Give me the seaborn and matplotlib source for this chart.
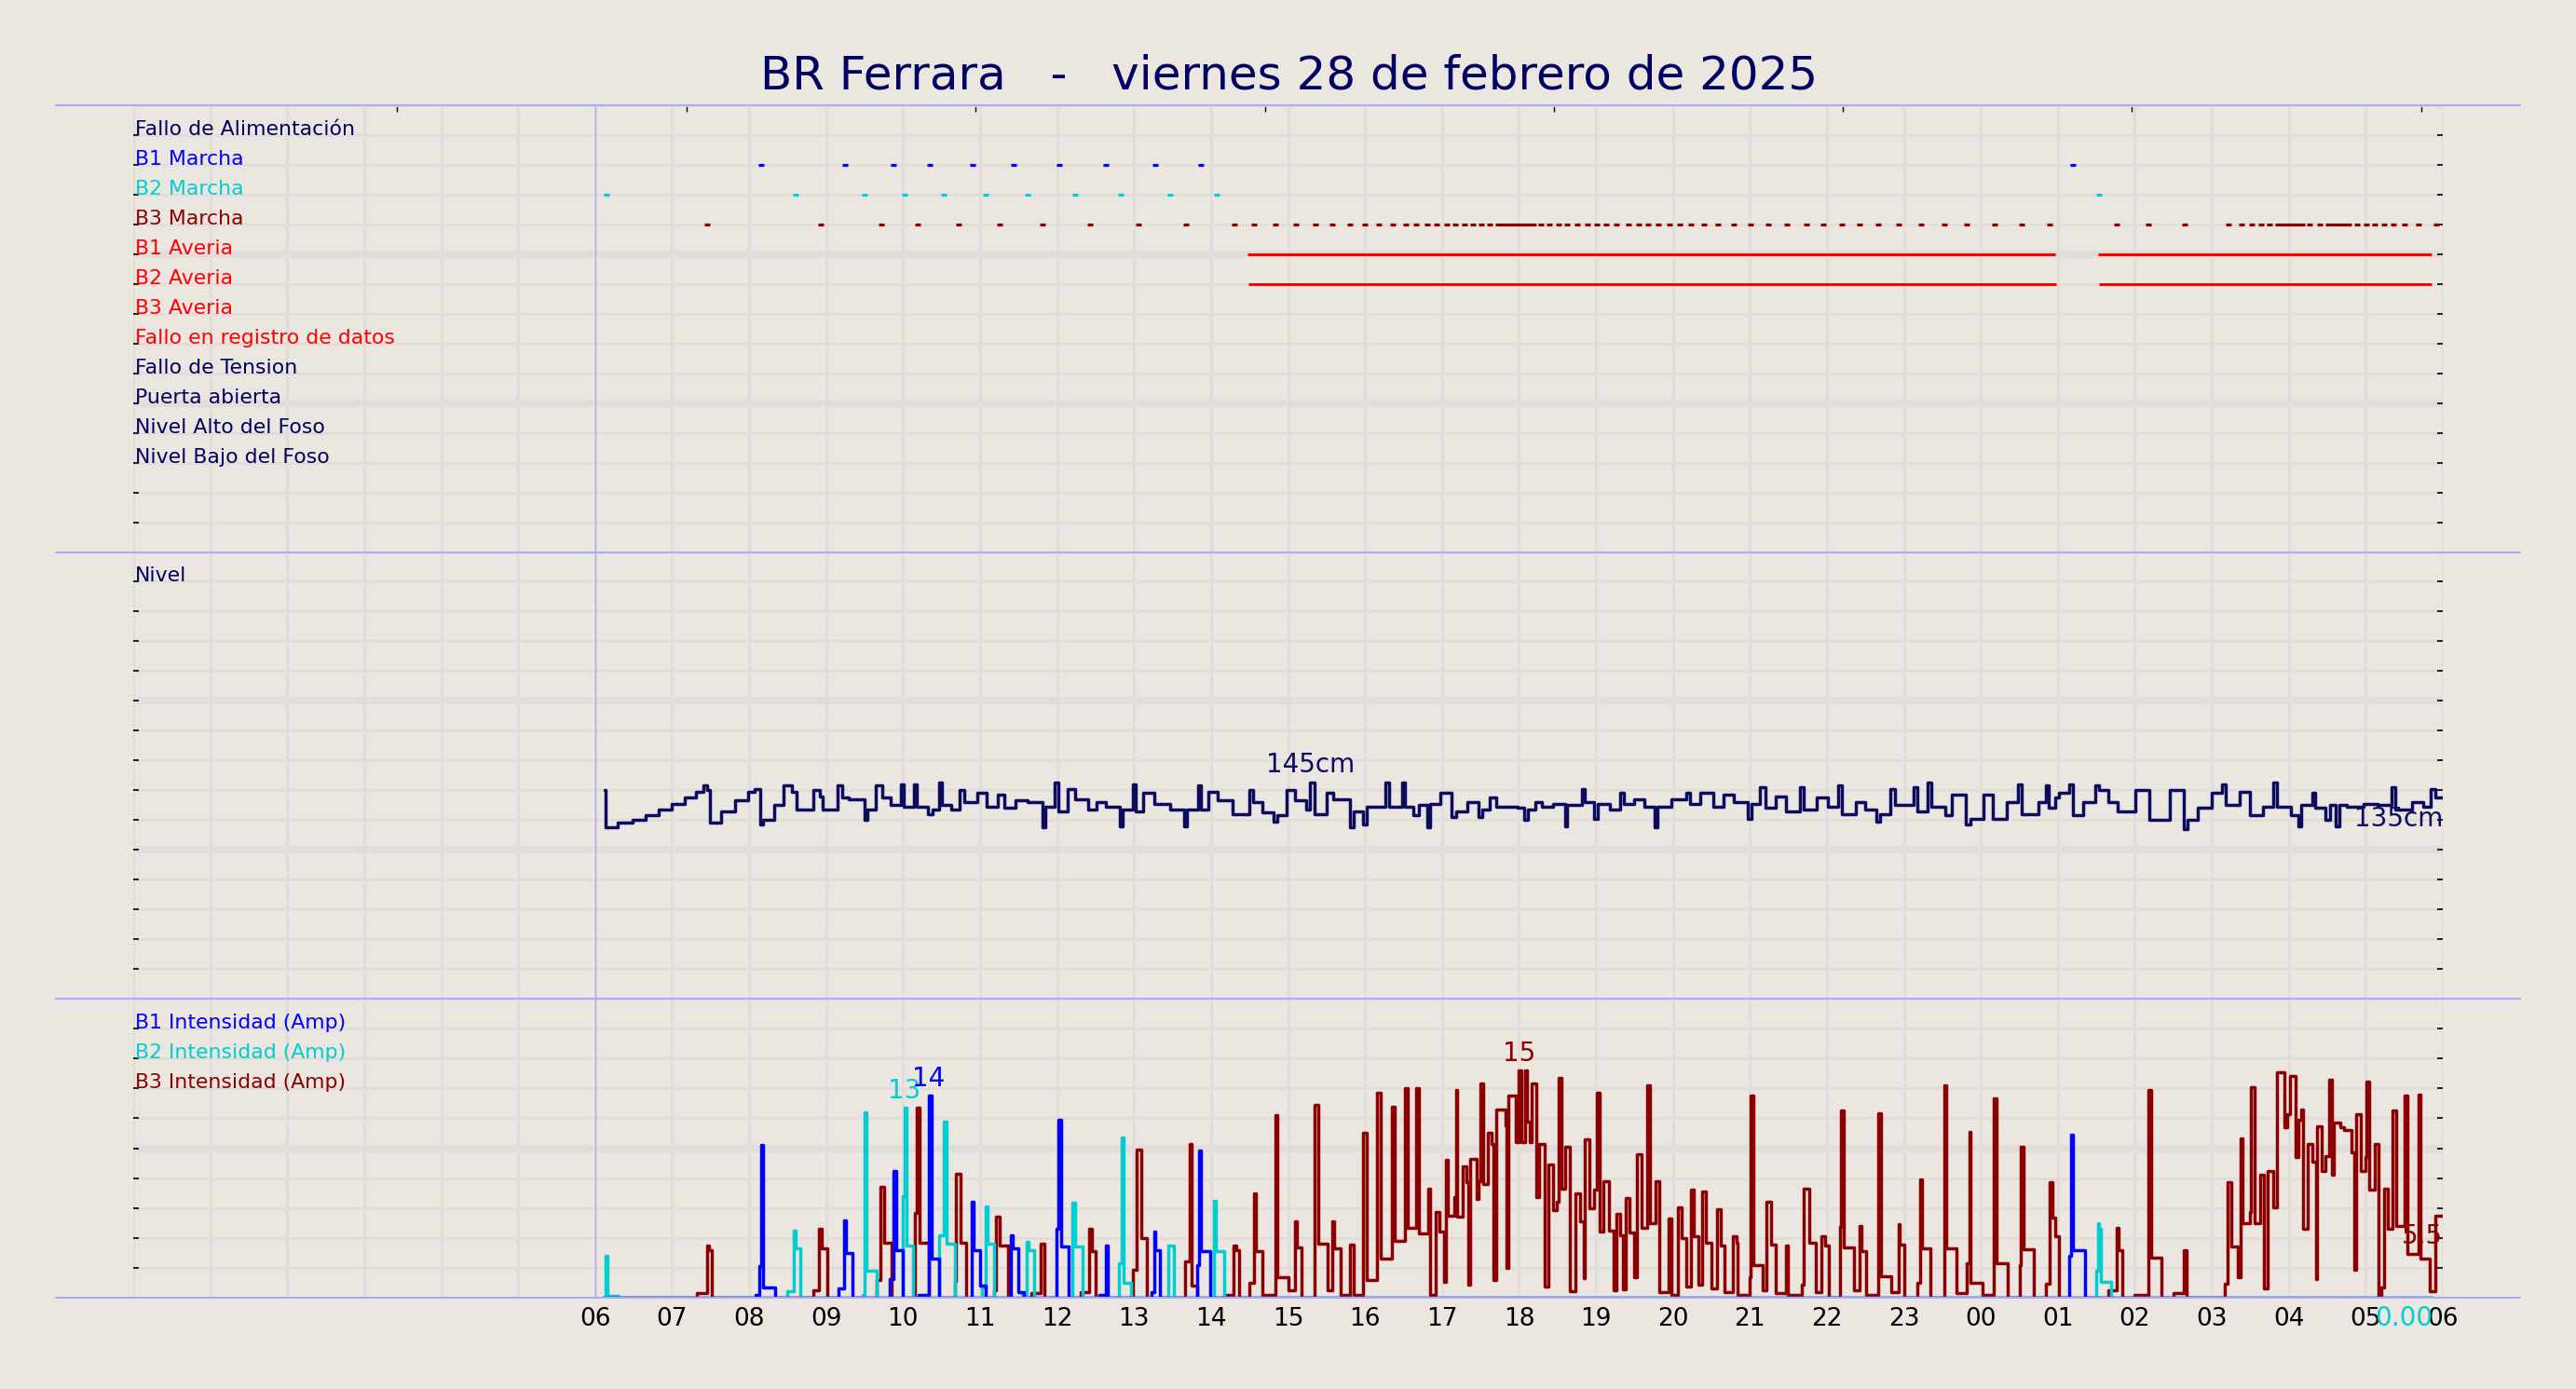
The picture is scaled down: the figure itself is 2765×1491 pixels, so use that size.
import matplotlib.pyplot as plt
from matplotlib.lines import Line2D
import seaborn as sns

# hours counted from 00:00 of the previous day; x axis runs 0..30, labels from 06
title = "BR Ferrara   -   viernes 28 de febrero de 2025"
hour_ticks = list(range(0, 31))
hour_labels = [""] * 6 + [f"{h % 24:02d}" for h in range(6, 31)]
top_ticks = [3.43, 7.19, 10.94, 14.70, 18.45, 22.21, 25.96, 29.72]

# status rows (top panel), from top row (14) downwards
status_labels = ["Fallo de Alimentación", "B1 Marcha", "B2 Marcha", "B3 Marcha",
                 "B1 Averia", "B2 Averia", "B3 Averia", "Fallo en registro de datos",
                 "Fallo de Tension", "Puerta abierta", "Nivel Alto del Foso",
                 "Nivel Bajo del Foso"]
status_rows = [14, 13, 12, 11, 10, 9, 8, 7, 6, 5, 4, 3]
status_colors = ["#000064", "#0000ff", "#00ced1", "#8b0000", "#ff0000", "#ff0000",
                 "#ff0000", "#ff0000", "#000064", "#000064", "#000064", "#000064"]

b1_run = [8.16, 9.25, 9.88, 10.35, 10.90, 11.44, 12.03, 12.63, 13.27, 13.87, 25.19]
b2_run = [6.15, 8.60, 9.50, 10.02, 10.53, 11.07, 11.62, 12.23, 12.83, 13.47, 14.07, 25.54]
b3_run = [7.46, 8.93, 9.72, 10.19, 10.72, 11.25, 11.81, 12.43, 13.06, 13.67, 14.30,
          14.56, 14.84, 15.10, 15.36, 15.58, 15.81, 16.00, 16.18, 16.36, 16.53, 16.67,
          16.81, 16.93, 17.06, 17.17, 17.29, 17.40, 17.51, 17.62, 18.29, 18.40, 18.51,
          18.63, 18.76, 18.89, 19.01, 19.13, 19.27, 19.42, 19.56, 19.68, 19.81, 19.95,
          20.09, 20.24, 20.40, 20.58, 20.79, 21.01, 21.24, 21.48, 21.73, 21.95, 22.20,
          22.42, 22.67, 22.93, 23.22, 23.52, 23.82, 24.18, 24.53, 24.89, 25.76, 26.17,
          26.65, 27.22, 27.38, 27.52, 27.64, 27.75, 28.27, 28.40, 28.89, 29.01, 29.12,
          29.24, 29.36, 29.50, 29.68, 29.92]
b3_run_start = [17.69, 27.82, 28.48]
b3_run_end = [18.22, 28.21, 28.82]
b1_fault_start = [14.47, 25.52]
b1_fault_end = [24.97, 29.85]
b2_fault_start = [14.48, 25.53]
b2_fault_end = [24.98, 29.85]

# pit level (cm), step change points
lvl_t = [6.12, 6.14, 6.29, 6.49, 6.66, 6.83, 6.99, 7.16, 7.31, 7.41, 7.45, 7.49, 7.64,
         7.82, 7.99, 8.07, 8.15, 8.18, 8.32, 8.45, 8.55, 8.62, 8.84, 8.92, 8.96, 9.15,
         9.21, 9.30, 9.50, 9.54, 9.65, 9.73, 9.84, 9.97, 10.01, 10.14, 10.18, 10.32,
         10.38, 10.47, 10.51, 10.62, 10.74, 10.79, 10.96, 11.08, 11.23, 11.31, 11.46,
         11.62, 11.81, 11.85, 11.97, 12.02, 12.14, 12.24, 12.41, 12.51, 12.64, 12.81,
         12.85, 12.98, 13.02, 13.12, 13.26, 13.47, 13.65, 13.69, 13.83, 13.87, 13.97,
         14.09, 14.28, 14.50, 14.55, 14.67, 14.81, 14.86, 14.98, 15.09, 15.23, 15.29,
         15.34, 15.50, 15.59, 15.81, 15.85, 15.98, 16.02, 16.27, 16.31, 16.48, 16.52,
         16.63, 16.70, 16.81, 16.85, 16.98, 17.12, 17.19, 17.33, 17.47, 17.52,
         17.62, 17.71, 17.85, 17.98, 18.07, 18.12, 18.21, 18.30, 18.44, 18.60, 18.63,
         18.82, 18.86, 18.97, 19.02, 19.18, 19.31, 19.36, 19.49, 19.63, 19.76, 19.80,
         19.98, 20.17, 20.22, 20.35, 20.53, 20.66, 20.79, 20.97, 21.02, 21.13, 21.20,
         21.33, 21.47, 21.65, 21.70, 21.87, 22.01, 22.14, 22.19, 22.37, 22.50, 22.64,
         22.69, 22.82, 22.88, 23.13, 23.18, 23.31, 23.36, 23.54, 23.62, 23.81, 23.86,
         24.03, 24.16, 24.34, 24.48, 24.53, 24.75, 24.84, 24.88, 24.97, 25.02, 25.15,
         25.20, 25.33, 25.49, 25.53, 25.65, 25.78, 26.01, 26.19, 26.46, 26.64, 26.68,
         26.82, 27.00, 27.13, 27.18, 27.36, 27.49, 27.67, 27.80, 27.85, 28.03, 28.12,
         28.16, 28.30, 28.34, 28.48, 28.53, 28.61, 28.66, 28.75, 28.97, 29.15, 29.33,
         29.38, 29.60, 29.74, 29.84, 29.90, 30.00]
lvl_v = [140, 115, 118, 120, 123, 127, 131, 135, 139, 143, 140, 118, 126,
         133, 139, 141, 117, 120, 130, 143, 139, 127, 140, 136, 127, 143,
         135, 134, 120, 127, 143, 135, 130, 144, 129, 144, 129, 124,
         127, 145, 130, 127, 140, 132, 138, 129, 137, 128, 133,
         132, 115, 129, 145, 126, 141, 134, 127, 132, 129, 116,
         127, 144, 126, 138, 131, 127, 116, 127, 143, 127, 139,
         133, 124, 140, 132, 125, 119, 123, 140, 133, 127, 145.4,
         124, 138, 134, 115, 126, 117, 129, 145, 129, 145, 129,
         123, 130, 115, 131, 138, 122, 126, 132, 122, 127,
         135, 129, 129, 128, 120, 127, 132, 129, 131, 116, 130,
         141, 132, 121, 131, 127, 138, 131, 134, 129, 115, 129,
         134, 138, 131, 138, 129, 137, 132, 121, 131, 142, 128,
         136, 126, 142, 127, 135, 129, 143, 124, 132, 127, 119,
         124, 141, 130, 142, 126, 145, 129, 123, 137, 117, 121,
         137, 121, 132, 144, 124, 132, 143, 128, 135, 138, 144,
         123, 132, 143, 140, 132, 126, 140, 120, 140, 114, 120,
         128, 138, 144, 130, 139, 123, 129, 145, 129, 123, 116,
         130, 138, 128, 120, 130, 116, 130, 129, 131, 130, 142,
         127, 132, 129, 141, 135, 135]

# pump currents (A), step change points
b1_t = [6.10, 8.08, 8.13, 8.16, 8.18, 8.34, 9.16, 9.23, 9.26, 9.34, 9.83, 9.88, 9.91,
        9.99, 10.20, 10.33, 10.37, 10.47, 10.89, 10.91, 11.00, 11.07, 11.40, 11.43,
        11.50, 11.57, 11.99, 12.02, 12.05, 12.15, 12.55, 12.63, 12.66, 13.23, 13.26,
        13.28, 13.34, 13.82, 13.85, 13.87, 13.99, 25.15, 25.17, 25.20, 25.35, 29.87]
b1_a = [0, 0.2, 2.1, 10.2, 0.67, 0, 0.6, 5.2, 3.0, 0, 1.25, 8.5, 3.2,
        0, 0.2, 13.5, 2.6, 0, 6.4, 3.2, 0.8, 0, 4.2, 3.3,
        0.35, 0, 4.6, 11.9, 3.4, 0, 0.2, 3.5, 0, 0.4, 4.4,
        3.2, 0, 2.2, 9.85, 3.1, 0, 2.8, 10.9, 3.15, 0, 0]
b2_t = [6.10, 6.13, 6.16, 6.30, 8.50, 8.58, 8.61, 8.67, 9.47, 9.50, 9.53, 9.66, 9.99,
        10.02, 10.05, 10.13, 10.47, 10.53, 10.56, 10.67, 11.02, 11.07, 11.10, 11.18,
        11.55, 11.60, 11.63, 11.70, 12.20, 12.23, 12.33, 12.80, 12.84, 12.87, 12.96,
        13.45, 13.52, 14.04, 14.06, 14.17, 25.50, 25.52, 25.54, 25.56, 25.69, 29.87]
b2_a = [0, 2.8, 0.1, 0, 0.46, 4.5, 3.3, 0, 0.2, 12.4, 1.8, 0, 6.8,
        12.7, 3.5, 0, 4.2, 11.8, 3.6, 0, 0.7, 6.1, 3.6, 0,
        0.2, 3.75, 3.2, 0, 6.35, 3.4, 0, 2.3, 10.7, 1.0, 0,
        3.5, 0, 6.5, 3.1, 0, 1.8, 5.0, 4.6, 1.05, 0, 0]
b3_t = [6.10, 7.32, 7.45, 7.48, 7.52, 8.83, 8.91, 8.94, 9.02, 9.66, 9.70, 9.75, 9.85,
        10.15, 10.18, 10.21, 10.34, 10.67, 10.69, 10.75, 10.82, 11.18, 11.21, 11.26,
        11.36, 11.66, 11.79, 11.83, 12.31, 12.42, 12.45, 12.50, 12.99, 13.03, 13.09,
        13.17, 13.66, 13.72, 13.75, 13.82, 14.17, 14.29, 14.33, 14.36, 14.50, 14.56,
        14.58, 14.67, 14.84, 14.86, 15.01, 15.09, 15.12, 15.17, 15.34, 15.39, 15.51,
        15.57, 15.60, 15.68, 15.81, 15.85, 15.98, 16.02, 16.16, 16.21, 16.35, 16.39,
        16.52, 16.56, 16.66, 16.70, 16.82, 16.85, 16.92, 16.97, 17.03, 17.05, 17.08,
        17.16, 17.18, 17.20, 17.27, 17.32, 17.34, 17.37, 17.45, 17.47, 17.50, 17.54,
        17.60, 17.65, 17.67, 17.70, 17.82, 17.84, 17.86, 17.96, 18.00, 18.03, 18.08,
        18.10, 18.14, 18.17, 18.22, 18.26, 18.33, 18.34, 18.38, 18.44, 18.49, 18.51,
        18.55, 18.60, 18.66, 18.73, 18.79, 18.84, 18.86, 18.92, 18.97, 19.01, 19.05,
        19.10, 19.17, 19.23, 19.27, 19.31, 19.35, 19.39, 19.44, 19.50, 19.53, 19.59,
        19.66, 19.70, 19.78, 19.82, 19.94, 19.98, 20.06, 20.11, 20.17, 20.23, 20.27,
        20.33, 20.38, 20.43, 20.50, 20.57, 20.62, 20.67, 20.78, 20.83, 20.84, 21.00,
        21.01, 21.04, 21.17, 21.22, 21.27, 21.33, 21.47, 21.49, 21.67, 21.70, 21.77,
        21.85, 21.93, 21.98, 22.02, 22.17, 22.18, 22.22, 22.35, 22.42, 22.45, 22.51,
        22.67, 22.70, 22.84, 22.93, 22.95, 23.01, 23.17, 23.21, 23.23, 23.35, 23.52,
        23.55, 23.68, 23.82, 23.85, 23.86, 24.02, 24.17, 24.20, 24.35, 24.50, 24.52,
        24.56, 24.69, 24.85, 24.89, 24.93, 24.96, 25.01, 25.66, 25.76, 25.79, 25.84,
        26.00, 26.17, 26.18, 26.21, 26.35, 26.50, 26.64, 26.67, 27.17, 27.21, 27.25,
        27.34, 27.37, 27.40, 27.49, 27.51, 27.55, 27.63, 27.68, 27.72, 27.80, 27.84,
        27.94, 27.98, 28.01, 28.09, 28.12, 28.16, 28.19, 28.24, 28.31, 28.35, 28.37,
        28.43, 28.48, 28.52, 28.56, 28.58, 28.67, 28.72, 28.82, 28.85, 28.87, 28.94,
        28.99, 29.01, 29.05, 29.12, 29.16, 29.20, 29.24, 29.29, 29.35, 29.40, 29.50,
        29.54, 29.69, 29.71, 29.83, 29.90, 30.00]
b3_a = [0, 0.3, 3.5, 3.2, 0, 0.5, 4.6, 3.3, 0, 1.2, 7.4, 3.7, 0,
        5.7, 12.7, 3.7, 0, 1.1, 8.3, 3.7, 0, 0.5, 5.4, 3.5,
        0, 0.3, 3.6, 0, 0.4, 4.6, 3.1, 0, 1.9, 9.9, 4.0,
        0, 2.4, 10.3, 0.8, 0, 0.2, 3.5, 3.2, 0, 1.0, 7.0,
        3.1, 0.2, 12.2, 1.4, 0.5, 5.1, 3.35, 0, 12.9, 3.6, 0.5,
        5.1, 3.3, 0.2, 3.55, 0.2, 11.0, 1.2, 13.7, 2.6, 12.8, 3.8,
        14.0, 4.7, 14.0, 4.3, 7.3, 0.2, 5.75, 4.45, 1.05, 9.2, 5.5,
        6.7, 13.9, 5.4, 8.8, 7.7, 0.85, 9.3, 6.6, 7.8, 14.3, 7.6,
        11.0, 10.3, 1.2, 12.6, 11.5, 2.0, 13.5, 10.4, 15.2, 10.4, 15.2,
        11.8, 10.4, 14.3, 6.7, 10.3, 9.6, 0.75, 8.9, 5.85, 6.4, 14.7,
        7.3, 10.1, 0.45, 7.0, 5.1, 1.3, 10.6, 6.0, 7.2, 13.7, 4.4,
        7.8, 4.5, 0.5, 5.6, 4.2, 0.55, 6.65, 4.35, 1.4, 9.6, 4.7,
        14.2, 5.0, 7.8, 0.35, 5.3, 0.2, 6.05, 4.0, 0.75, 7.2, 4.1,
        0.85, 7.1, 3.7, 0.65, 5.9, 3.5, 0.35, 4.1, 3.7, 0.2, 1.4,
        13.5, 2.2, 0.5, 6.4, 3.55, 0.3, 3.5, 0.2, 0.85, 7.3, 3.7,
        0.4, 4.1, 3.5, 0, 4.75, 12.5, 3.35, 0.5, 4.8, 3.1, 0.2,
        12.35, 1.45, 0.35, 4.9, 3.55, 0, 1.0, 7.9, 3.3, 0, 14.2,
        3.3, 0.3, 2.3, 11.1, 1.0, 0.2, 13.35, 2.3, 0, 2.2, 10.1,
        3.25, 0, 0.95, 7.7, 5.35, 4.1, 0, 0.5, 4.65, 3.15, 0,
        0.2, 0.55, 13.9, 2.7, 0, 0.3, 3.2, 0, 0.95, 7.75, 3.45,
        1.4, 10.65, 5.0, 5.75, 14.05, 5.0, 8.2, 0.65, 8.45, 6.05, 15.1,
        11.4, 12.3, 14.8, 9.4, 11.9, 12.6, 4.6, 10.3, 9.1, 1.27, 11.45,
        8.45, 9.5, 14.55, 8.25, 11.7, 11.4, 11.2, 9.7, 1.9, 12.3, 8.45,
        9.4, 14.45, 7.2, 10.3, 0.15, 0.7, 7.3, 4.6, 12.5, 4.8, 13.55,
        2.9, 13.6, 2.6, 0.45, 5.5, 5.5]

BG = "#ebe6e0"
GRID = "#e2dddb"
LAV = "#aaaaff"
NAVY = "#000064"
LVL = "#0b0b60"
BLUE, CYAN, DRED, RED = "#0000ff", "#00ced1", "#8b0000", "#ff0000"

sns.set_theme(style="whitegrid", rc={
    "figure.facecolor": BG, "axes.facecolor": BG, "grid.color": GRID,
    "grid.linewidth": 2.0, "axes.edgecolor": BG,
})
plt.rcParams["font.family"] = ["DejaVu Sans"]

W, H = 2765, 1491
fig = plt.figure(figsize=(W / 100, H / 100), dpi=100)
left, right = 143 / W, 2622 / W


def fy(px):
    return 1 - px / H


bounds = [113, 592.5, 1072, 1393]
ax_st = fig.add_axes([left, fy(bounds[1]), right - left, fy(bounds[0]) - fy(bounds[1])])
ax_lv = fig.add_axes([left, fy(bounds[2]), right - left, fy(bounds[1]) - fy(bounds[2])])
ax_in = fig.add_axes([left, fy(bounds[3]), right - left, fy(bounds[2]) - fy(bounds[3])])

panels = [(ax_st, (0, 15), list(range(1, 15)), [5, 10]),
          (ax_lv, (0, 300), list(range(20, 300, 20)), [100, 200]),
          (ax_in, (0, 20), list(range(2, 20, 2)), [10])]
for ax, ylim, yt, thick in panels:
    ax.set_xlim(0, 30)
    ax.set_ylim(*ylim)
    ax.set_xticks(hour_ticks)
    ax.set_xticklabels([])
    ax.set_yticks(yt)
    ax.set_yticklabels([])
    ax.set_axisbelow(True)
    ax.grid(True, color=GRID, linewidth=2.0)
    for y in thick:
        ax.axhline(y, color=GRID, linewidth=5.5, zorder=0.5)
    ax.axhline(ylim[0], color=GRID, linewidth=2.0, zorder=0.5)
    ax.axhline(ylim[1], color=GRID, linewidth=2.0, zorder=0.5)
    ax.axvline(6, color=LAV, linewidth=1.0, zorder=1)
    for s in ax.spines.values():
        s.set_visible(False)
    ax.tick_params(axis="y", direction="in", length=4, width=1.2, colors="black",
                   left=True, right=True)
    ax.tick_params(axis="x", length=0)

LABEL_FS = 15.8

# ---- status panel ----
for lab, row, c in zip(status_labels, status_rows, status_colors):
    ax_st.text(0.02, row, lab, color=c, fontsize=LABEL_FS, va="baseline", ha="left")

for times, row, c in [(b1_run, 13, BLUE), (b2_run, 12, CYAN), (b3_run, 11, DRED)]:
    sns.scatterplot(x=times, y=[row] * len(times), marker="_", s=22, linewidth=2.3,
                    color=c, ax=ax_st, legend=False, zorder=3)
ax_st.hlines([11] * len(b3_run_start), b3_run_start, b3_run_end, color=DRED,
             linewidth=2.3, zorder=3)
ax_st.hlines([10] * len(b1_fault_start), b1_fault_start, b1_fault_end, color=RED,
             linewidth=2.2, zorder=3)
ax_st.hlines([9] * len(b2_fault_start), b2_fault_start, b2_fault_end, color=RED,
             linewidth=2.2, zorder=3)

sec = ax_st.secondary_xaxis("top")
sec.set_xticks(top_ticks)
sec.set_xticklabels([])
sec.tick_params(direction="in", length=5, width=1, colors="black", top=True)
for s in sec.spines.values():
    s.set_visible(False)

# ---- level panel ----
sns.lineplot(x=lvl_t, y=lvl_v, ax=ax_lv, color=LVL, linewidth=2.5,
             drawstyle="steps-post", estimator=None, sort=False, zorder=3)
ax_lv.text(0.02, 280, "Nivel", color=NAVY, fontsize=LABEL_FS, va="baseline", ha="left")
i_max = lvl_v.index(max(lvl_v))
ax_lv.annotate(f"{max(lvl_v):.0f}cm", (lvl_t[i_max], lvl_v[i_max]), xytext=(0, 3),
               textcoords="offset points", ha="center", va="bottom", color=LVL,
               fontsize=20)
ax_lv.annotate(f"{lvl_v[-1]:.0f}cm", (lvl_t[-1], lvl_v[-1]), xytext=(0, -6),
               textcoords="offset points", ha="right", va="top", color=LVL,
               fontsize=20)

# ---- current panel ----
series = [(b3_t, b3_a, DRED, "B3 Intensidad (Amp)", 14),
          (b2_t, b2_a, CYAN, "B2 Intensidad (Amp)", 16),
          (b1_t, b1_a, BLUE, "B1 Intensidad (Amp)", 18)]
for t, a, c, lab, row in series:
    sns.lineplot(x=t, y=a, ax=ax_in, color=c, linewidth=2.5,
                 drawstyle="steps-post", estimator=None, sort=False, zorder=3)
    ax_in.text(0.02, row, lab, color=c, fontsize=LABEL_FS, va="baseline", ha="left")
    k = a.index(max(a))
    ax_in.annotate(f"{a[k]:.0f}", (t[k], a[k]), xytext=(0, 3), textcoords="offset points",
                   ha="center", va="bottom", color=c, fontsize=20, zorder=4)

ax_in.annotate(f"{b3_a[-1]:.1f}", (b3_t[-1], b3_a[-1]), xytext=(0, -6),
               textcoords="offset points", ha="right", va="top", color=DRED,
               fontsize=20, zorder=4)
ax_in.annotate(f"{b2_a[-1]:.2f}", (b2_t[-1], b2_a[-1]), xytext=(0, -6),
               textcoords="offset points", ha="right", va="top", color=CYAN,
               fontsize=20, zorder=4, annotation_clip=False)

ax_in.set_xticklabels(hour_labels, fontsize=19, color="black")
ax_in.tick_params(axis="x", pad=7)
for ax in (ax_st, ax_lv, ax_in):
    ax.set_xlabel("")
    ax.set_ylabel("")

# panel separators
for y in bounds:
    fig.add_artist(Line2D([60 / W, 2705 / W], [fy(y), fy(y)], color=LAV, linewidth=1.5))

fig.text(1384 / W, fy(81), title, ha="center", va="center", fontsize=36, color=NAVY)

fig.savefig("out.png", dpi=100, facecolor=BG)
